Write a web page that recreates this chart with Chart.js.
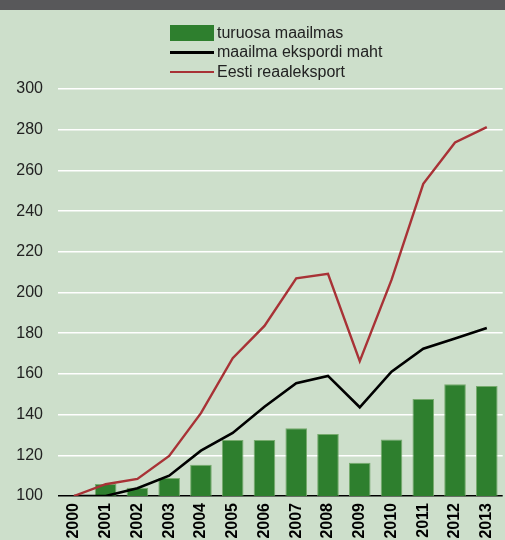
<!DOCTYPE html>
<html>
<head>
<meta charset="utf-8">
<script src="https://cdn.jsdelivr.net/npm/chart.js@4.4.0/dist/chart.umd.min.js"></script>
<style>
  html, body { margin: 0; padding: 0; }
  body {
    width: 505px; height: 540px; overflow: hidden; position: relative;
    background: #cddfcb; font-family: "Liberation Sans", Arial, sans-serif;
  }
  #riba { position: absolute; left: 0; top: 0; width: 505px; height: 10px; background: #58585a; z-index: 2; }
  #wrap { position: absolute; left: 0; top: 0; width: 513px; height: 540px; }
  #legend { position: absolute; left: 170px; top: 23px; z-index: 3; font-size: 16px; color: #222; }
  #legend div { height: 19.5px; display: flex; align-items: center; }
  #legend span.m { display: inline-block; width: 44px; margin-right: 3px; }
</style>
</head>
<body>
<div id="riba"></div>
<div id="legend"></div>
<div id="wrap"><canvas id="graafik"></canvas></div>
<script>
const aastad = ['2000', '2001', '2002', '2003', '2004', '2005', '2006', '2007', '2008', '2009', '2010', '2011', '2012', '2013'];
const turuosa = [100, 105.9, 104.1, 108.9, 115.4, 127.5, 127.5, 133.3, 130.5, 116.4, 127.8, 147.7, 154.9, 154.1];
const maailmaEksport = [100, 100, 103.8, 110, 122.3, 131, 143.9, 155.4, 159, 143.6, 161.1, 172.4, 177.4, 182.6];
const eestiEksport = [100, 105.8, 108.4, 119.7, 140.7, 167.7, 183.6, 207, 209.2, 166.3, 206.2, 253.4, 273.7, 281.3];
const yTicks = [100, 120, 140, 160, 180, 200, 220, 240, 260, 280, 300];

const nimed = ['turuosa maailmas', 'maailma ekspordi maht', 'Eesti reaaleksport'];
const varvid = ['#2e7f2e', '#000000', '#a83236'];

const ctx = document.getElementById('graafik').getContext('2d');
const graafik = new Chart(ctx, {
  data: {
    labels: aastad,
    datasets: [
      {
        type: 'bar',
        label: nimed[0],
        data: turuosa,
        backgroundColor: varvid[0],
        borderColor: 'rgba(110,165,100,0.9)',
        borderWidth: 1,
        barPercentage: 0.68,
        categoryPercentage: 1,
        order: 3
      },
      {
        type: 'line',
        label: nimed[1],
        data: maailmaEksport,
        borderColor: varvid[1],
        borderWidth: 2.6,
        pointRadius: 0,
        tension: 0,
        order: 2
      },
      {
        type: 'line',
        label: nimed[2],
        data: eestiEksport,
        borderColor: varvid[2],
        borderWidth: 2.4,
        pointRadius: 0,
        tension: 0,
        order: 1
      }
    ]
  },
  options: {
    responsive: true,
    maintainAspectRatio: false,
    animation: false,
    layout: { padding: { top: 89, left: 0, right: 0, bottom: 0 } },
    plugins: {
      legend: { display: false },
      tooltip: { enabled: false }
    },
    scales: {
      x: {
        grid: { display: false, drawTicks: false },
        border: { display: false },
        ticks: {
          color: '#000',
          maxRotation: 90,
          minRotation: 90,
          padding: 7,
          font: { family: '"Liberation Sans", Arial, sans-serif', size: 16, weight: 'bold' }
        },
        afterFit: function (scale) { scale.height = 44; }
      },
      y: {
        min: 100,
        max: 300,
        afterBuildTicks: function (scale) { scale.ticks = yTicks.map(v => ({ value: v })); },
        grid: {
          drawTicks: false,
          color: c => (c.tick && c.tick.value === 100 ? '#000' : '#ffffff'),
          lineWidth: 1.5
        },
        border: { display: false },
        ticks: {
          color: '#222',
          padding: 15,
          font: { family: '"Liberation Sans", Arial, sans-serif', size: 16 }
        },
        afterFit: function (scale) { scale.width = 58; }
      }
    }
  }
});

// legend html-ina
const leg = document.getElementById('legend');
nimed.forEach((n, i) => {
  const rida = document.createElement('div');
  const m = document.createElement('span');
  m.className = 'm';
  if (i === 0) {
    m.style.height = '16px';
    m.style.background = varvid[i];
  } else {
    m.style.height = i === 1 ? '3px' : '2.5px';
    m.style.background = varvid[i];
  }
  rida.appendChild(m);
  rida.appendChild(document.createTextNode(n));
  leg.appendChild(rida);
});
</script>
</body>
</html>
